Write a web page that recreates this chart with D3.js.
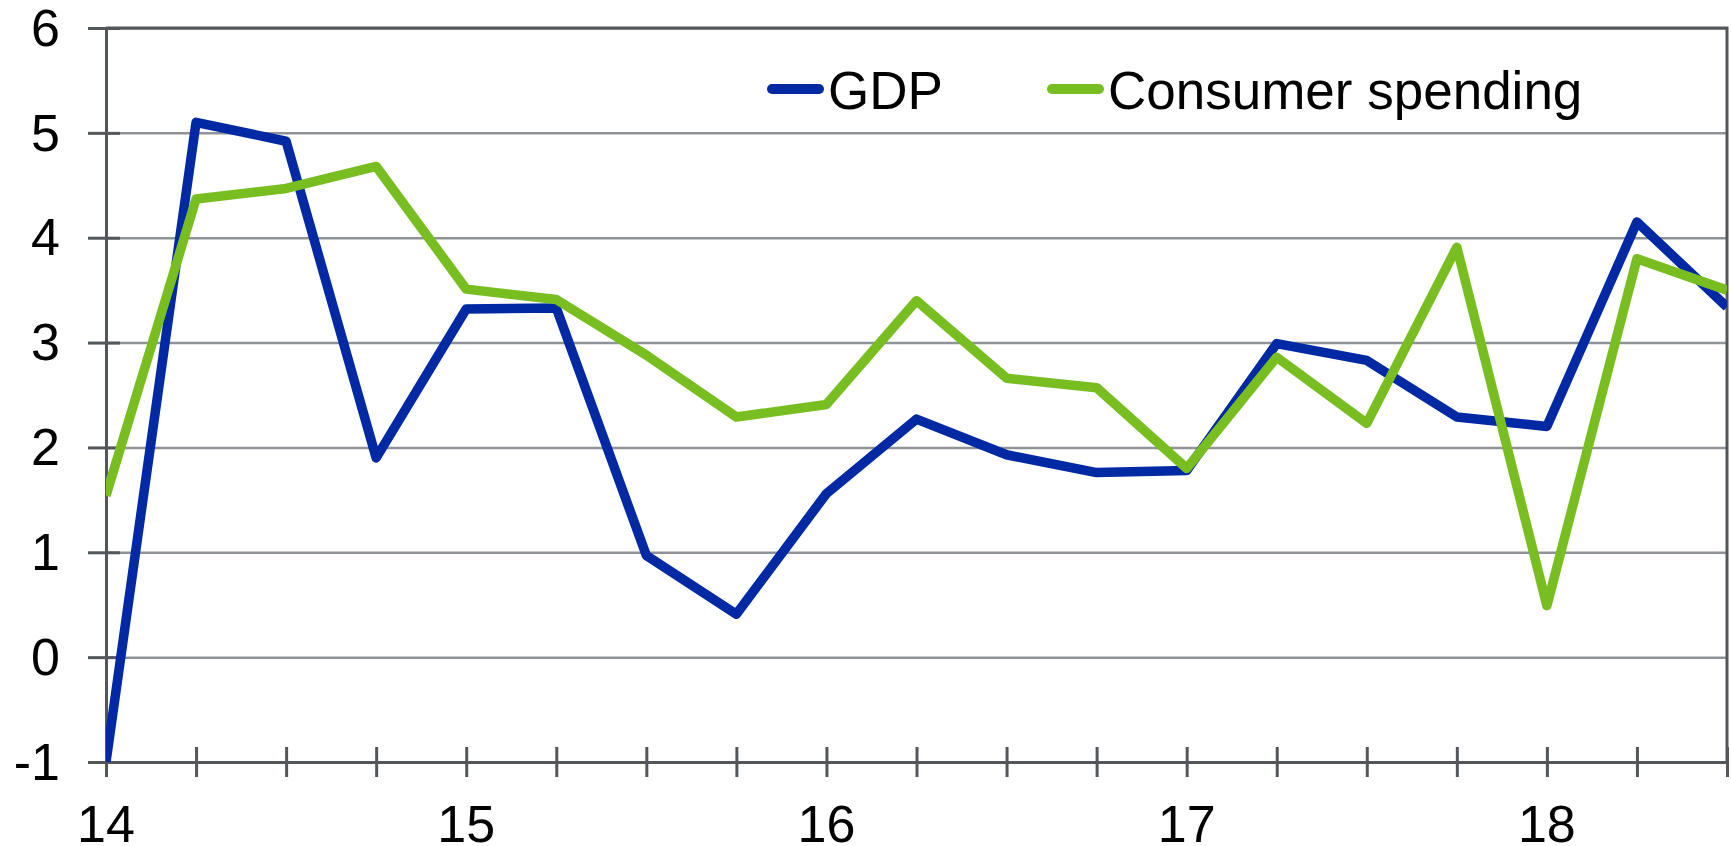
<!DOCTYPE html>
<html lang="en">
<head>
    <meta charset="UTF-8">
    <title>GDP and consumer spending</title>
    <style>
        body { margin: 0; background: #fff; }
        text { font-family: "Liberation Sans", Arial, sans-serif; fill: #000; }
    </style>
</head>
<body>
    <svg id="container" width="1731" height="846"></svg>

<script src="https://cdn.jsdelivr.net/npm/d3@7/dist/d3.min.js"></script>
<script>
    // quarters from 14Q1 to 18Q3
    let quarters = d3.range(19)
    let yearLabels = ["14", "15", "16", "17", "18"]
    let yTicks = [-1, 0, 1, 2, 3, 4, 5, 6]

    let gdp = [-1.0, 5.10, 4.92, 1.90, 3.32, 3.33, 0.97, 0.41, 1.56, 2.27,
        1.93, 1.76, 1.78, 2.99, 2.83, 2.29, 2.20, 4.15, 3.34]
    let consumer = [1.54, 4.37, 4.47, 4.68, 3.51, 3.41, 2.88, 2.29, 2.41, 3.40,
        2.66, 2.57, 1.80, 2.86, 2.23, 3.91, 0.49, 3.80, 3.50]

    let svg = d3.select("#container")
    let plotLeft = 106, plotRight = 1727, plotTop = 28, plotBottom = 762

    let x = d3.scaleLinear().domain([0, 18]).range([plotLeft, plotRight])
    let y = d3.scaleLinear().domain([-1, 6]).range([plotBottom, plotTop])

    // gridlines
    svg.append("g")
        .attr("transform", `translate(${plotLeft},0)`)
        .call(d3.axisLeft(y).tickValues(yTicks).tickSize(-(plotRight - plotLeft)).tickFormat(""))
        .call(g => g.select(".domain").remove())
        .call(g => g.selectAll("line").attr("stroke", "#8f9398").attr("stroke-width", 2.5))

    // plot border (top and right)
    svg.append("path")
        .attr("d", `M${plotLeft},${plotTop}H${plotRight}V${plotBottom}`)
        .attr("fill", "none")
        .attr("stroke", "#53575c")
        .attr("stroke-width", 3)

    // y axis with ticks crossing it
    svg.append("g")
        .attr("transform", `translate(${plotLeft},0)`)
        .call(d3.axisLeft(y).tickValues(yTicks).tickSize(18).tickPadding(0).tickFormat(""))
        .call(g => g.select(".domain").attr("stroke", "#53575c").attr("stroke-width", 3))
        .call(g => g.selectAll("line").attr("x2", -18).attr("x1", 14)
            .attr("stroke", "#53575c").attr("stroke-width", 3))

    svg.append("g").selectAll("text").data(yTicks)
        .enter().append("text")
        .attr("x", 60)
        .attr("y", d => y(d))
        .attr("dy", "0.34em")
        .attr("text-anchor", "end")
        .attr("font-size", 52)
        .text(d => d)

    // x axis
    svg.append("g")
        .attr("transform", `translate(0,${plotBottom})`)
        .call(d3.axisBottom(x).tickValues(quarters).tickSize(15).tickFormat(""))
        .call(g => g.select(".domain").attr("stroke", "#53575c").attr("stroke-width", 3))
        .call(g => g.selectAll("line").attr("y1", -15)
            .attr("stroke", "#53575c").attr("stroke-width", 3))

    svg.append("g").selectAll("text").data(yearLabels)
        .enter().append("text")
        .attr("x", (d, i) => x(i * 4))
        .attr("y", 842)
        .attr("text-anchor", "middle")
        .attr("font-size", 52)
        .text(d => d)

    // lines
    svg.append("clipPath").attr("id", "plot")
        .append("rect")
        .attr("x", plotLeft).attr("y", plotTop)
        .attr("width", plotRight - plotLeft).attr("height", plotBottom - plotTop)

    let line = d3.line()
        .x((d, i) => x(quarters[i]))
        .y(d => y(d))

    let series = [
        { name: "GDP", values: gdp, color: "#0029a3" },
        { name: "Consumer spending", values: consumer, color: "#78be21" }
    ]

    svg.append("g").attr("clip-path", "url(#plot)")
        .selectAll("path").data(series)
        .enter().append("path")
        .attr("d", d => line(d.values))
        .attr("fill", "none")
        .attr("stroke", d => d.color)
        .attr("stroke-width", 9.5)
        .attr("stroke-linejoin", "round")

    // legend
    let legendPos = [767, 1047]
    let legend = svg.append("g").selectAll("g").data(series)
        .enter().append("g")
        .attr("transform", (d, i) => `translate(${legendPos[i]},89)`)

    legend.append("line")
        .attr("x1", 5).attr("x2", 52)
        .attr("stroke", d => d.color)
        .attr("stroke-width", 10)
        .attr("stroke-linecap", "round")

    legend.append("text")
        .attr("x", 61)
        .attr("y", 20)
        .attr("font-size", 53)
        .text(d => d.name)
</script>
</body>
</html>
